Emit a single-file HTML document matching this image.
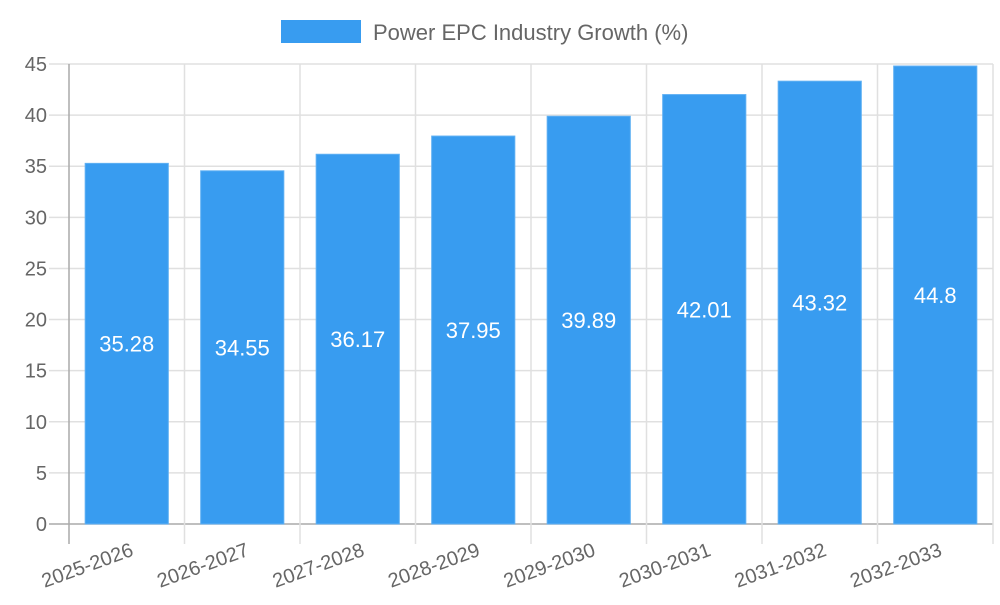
<!DOCTYPE html>
<html><head><meta charset="utf-8"><style>
body{margin:0;background:#fff}
svg{font-family:"Liberation Sans",sans-serif}
</style></head><body>
<svg id="c" width="1000" height="600">
<rect x="281" y="20" width="80" height="23" fill="#389cf0"/>
<text x="373" y="40" font-size="22" fill="#666">Power EPC Industry Growth (%)</text>
<g id="grid"></g><g id="bars"></g>
</svg>
<script>
const categories=["2025-2026","2026-2027","2027-2028","2028-2029","2029-2030","2030-2031","2031-2032","2032-2033"];
const values=[35.28,34.55,36.17,37.95,39.89,42.01,43.32,44.8];
const yTicks=[0,5,10,15,20,25,30,35,40,45];
const NS="http://www.w3.org/2000/svg";
const L=69,R=993,T=64,B=524,YMAX=45;
const y=v=>B-(v/YMAX)*(B-T);
const bw=(R-L)/categories.length;
const x=i=>L+i*bw;
const g=document.getElementById('grid'),bg=document.getElementById('bars');
function mk(tag,a,p){const e=document.createElementNS(NS,tag);for(const k in a)e.setAttribute(k,a[k]);p.appendChild(e);return e;}
yTicks.forEach(t=>{
 const ln=mk('line',{x1:49,x2:R,y1:y(t),y2:y(t),stroke:t===0?'#aaa':'#e0e0e0','stroke-width':1.5},g);
 
 
 const tx=mk('text',{x:47,y:y(t)+7,'text-anchor':'end','font-size':20,fill:'#666'},g);
 tx.textContent=t;
 
 
});
for(let i=0;i<=categories.length;i++){
 const ln=mk('line',{x1:x(i),x2:x(i),y1:T,y2:544,stroke:i===0?'#aaa':'#e0e0e0','stroke-width':1.5},g);
 
 
}
categories.forEach((c,i)=>{
 const cx=x(i)+bw/2, w=bw*0.72;
 const r=mk('rect',{x:cx-w/2,y:y(values[i]),width:w,height:B-y(values[i]),fill:'#389cf0',stroke:'#5fb0f3','stroke-width':1},bg);
 
 
 const vt=mk('text',{x:cx,y:(y(values[i])+B)/2+8,'text-anchor':'middle','font-size':22,fill:'#fff'},bg);
 vt.textContent=values[i];
 
 
 const lt=mk('text',{x:cx+3,y:542,'text-anchor':'end','font-size':20,fill:'#666',transform:`rotate(-20 ${cx+3} 542)`,dy:'0.7em'},bg);
 lt.textContent=c;
 
 
});
</script>
</body></html>
